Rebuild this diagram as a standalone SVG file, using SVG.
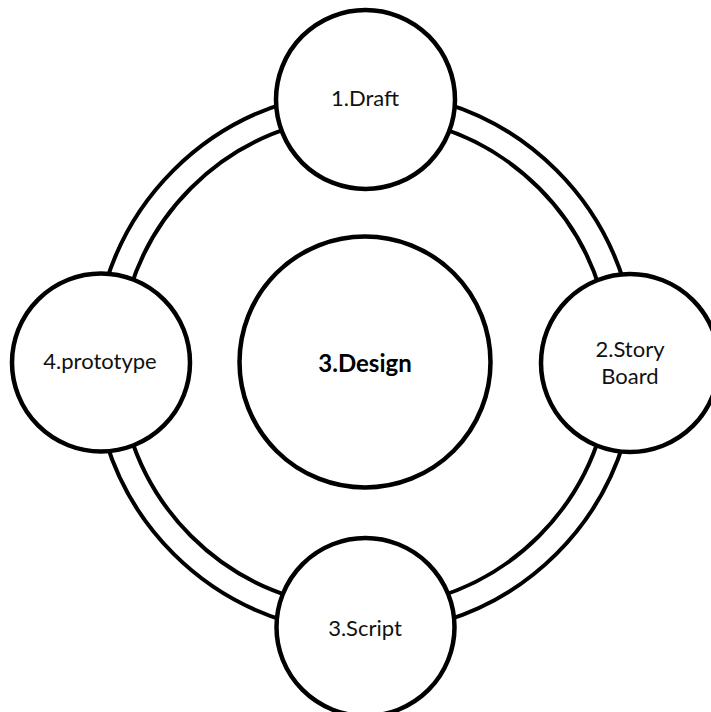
<svg xmlns="http://www.w3.org/2000/svg" width="711" height="712" viewBox="0 0 711 712">
  <style>
    .band { fill: none; stroke: #000; stroke-width: 4; }
    .node { fill: #fff; stroke: #000; stroke-width: 4.5; }
    .label { font-family: Lato, "Liberation Sans", sans-serif; font-size: 22px; fill: #111; text-anchor: middle; }
    .hub { font-weight: bold; font-size: 24px; fill: #000; }
  </style>
  <rect width="711" height="712" fill="#fff"/>

  <!-- double-line ring segments around (365,362); ends tuck under the node circles -->
  <g id="connectors">
    <!-- Draft -> Story Board -->
    <path class="band" d="M 444.2 102.8 A 271 271 0 0 1 624.2 282.8 M 436.9 126.7 A 246 246 0 0 1 600.3 290.1"/>
    <!-- Story Board -> Script -->
    <path class="band" d="M 624.2 441.2 A 271 271 0 0 1 444.2 621.2 M 600.3 433.9 A 246 246 0 0 1 436.9 597.3"/>
    <!-- Script -> prototype -->
    <path class="band" d="M 285.8 621.2 A 271 271 0 0 1 105.8 441.2 M 293.1 597.3 A 246 246 0 0 1 129.7 433.9"/>
    <!-- prototype -> Draft -->
    <path class="band" d="M 105.8 282.8 A 271 271 0 0 1 285.8 102.8 M 129.7 290.1 A 246 246 0 0 1 293.1 126.7"/>
  </g>

  <g id="node-design">
    <circle class="node" cx="365" cy="362" r="125.5"/>
    <text class="label hub" x="365" y="372">3.Design</text>
  </g>

  <g id="node-draft">
    <circle class="node" cx="365.5" cy="99.5" r="89.5"/>
    <text class="label" x="365" y="106">1.Draft</text>
  </g>

  <g id="node-storyboard">
    <circle class="node" cx="630" cy="363" r="89"/>
    <text class="label" x="630" y="357">2.Story</text>
    <text class="label" x="630" y="383.5">Board</text>
  </g>

  <g id="node-script">
    <circle class="node" cx="365.5" cy="627" r="89"/>
    <text class="label" x="365" y="636">3.Script</text>
  </g>

  <g id="node-prototype">
    <circle class="node" cx="101" cy="362.5" r="89"/>
    <text class="label" x="100" y="369">4.prototype</text>
  </g>
</svg>
